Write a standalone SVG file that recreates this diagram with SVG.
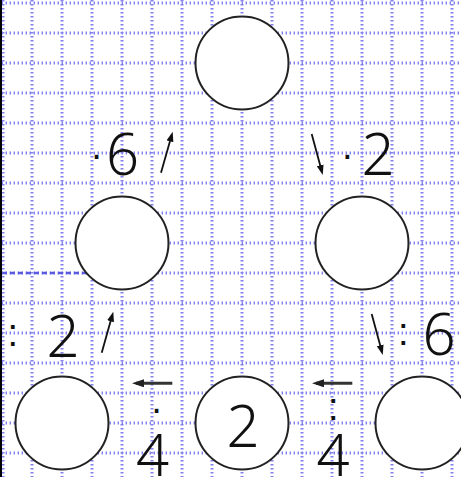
<svg xmlns="http://www.w3.org/2000/svg" width="461" height="477" viewBox="0 0 461 477">
<style>
.gh{stroke:#8080ee;stroke-width:3;stroke-dasharray:1.4 2.6;fill:none}
.gv{stroke:#8080ee;stroke-width:3;stroke-dasharray:1.4 2.6;fill:none}
.node{fill:#fff;stroke:#222;stroke-width:2}
.num{font-family:"Noto Sans","DejaVu Sans",sans-serif;font-weight:300;font-size:58px;fill:#111;text-anchor:middle}
.op{font-family:"Liberation Sans",Arial,sans-serif;font-weight:400;font-size:38px;fill:#111;text-anchor:middle}
.arr{stroke:#111;stroke-width:1.8;fill:none;marker-end:url(#ah)}
.arrh{stroke:#333;stroke-width:3;fill:none;marker-end:url(#ah2)}
</style>
<defs>
<marker id="ah" markerUnits="userSpaceOnUse" viewBox="0 0 10 7" markerWidth="10" markerHeight="7" refX="6" refY="3.5" orient="auto"><path d="M0,0 L10,3.5 L0,7 Z" fill="#111"/></marker>
<marker id="ah2" markerUnits="userSpaceOnUse" viewBox="0 0 12 8" markerWidth="12" markerHeight="8" refX="8" refY="4" orient="auto"><path d="M0,0 L12,4 L0,8 Z" fill="#222"/></marker>
</defs>
<rect x="0" y="0" width="461" height="477" fill="#fff"/>
<g id="grid">
<path class="gh" d="M1.6,3H461M1.6,33H461M1.6,63H461M1.6,93H461M1.6,123H461M1.6,153H461M1.6,183H461M1.6,213H461M1.6,243H461M1.6,273H461M1.6,303H461M1.6,333H461M1.6,363H461M1.6,393H461M1.6,423H461M1.6,453H461"/>
<path class="gv" d="M3,0V477M32,0V477M62,0V477M92,0V477M122,0V477M152,0V477M182,0V477M212,0V477M242,0V477M272,0V477M302,0V477M332,0V477M362,0V477M392,0V477M422,0V477M452,0V477"/>
<path d="M2,273H98" stroke="#5a5ae0" stroke-width="2.5" stroke-dasharray="5 3" fill="none"/>
<path d="M1,0V477" stroke="#000" stroke-width="2"/>
</g>
<g id="connectors">
<path class="arr" d="M161,172.7L171.6,135.5"/>
<path class="arr" d="M311.7,134L321.7,171.1"/>
<path class="arr" d="M101.7,352.7L112.2,315.5"/>
<path class="arr" d="M371.7,314L381.7,351.1"/>
<path class="arrh" d="M172.3,383.3H136"/>
<path class="arrh" d="M352.3,383.3H316"/>
</g>
<g id="node-top"><circle class="node" cx="242" cy="63" r="46.5"/></g>
<g id="node-mid-left"><circle class="node" cx="122" cy="243" r="46.5"/></g>
<g id="node-mid-right"><circle class="node" cx="362" cy="243" r="46.5"/></g>
<g id="node-bottom-left"><circle class="node" cx="62" cy="423" r="46.5"/></g>
<g id="node-bottom-mid"><circle class="node" cx="242" cy="423" r="46.5"/><text class="num" x="243" y="446.5">2</text></g>
<g id="node-bottom-right"><circle class="node" cx="422" cy="423" r="46.5"/></g>
<g id="labels">
<text><tspan class="op" x="96.7" y="168.3">·</tspan><tspan class="num" x="122.5" y="175">6</tspan></text>
<text><tspan class="op" x="347.3" y="168.3">·</tspan><tspan class="num" x="378" y="175">2</tspan></text>
<text><tspan class="op" x="12.7" y="346">:</tspan><tspan class="num" x="63" y="356.5">2</tspan></text>
<text><tspan class="op" x="403.3" y="345.2">:</tspan><tspan class="num" x="439" y="355">6</tspan></text>
<text><tspan class="op" x="156.7" y="422.3">·</tspan><tspan class="num" x="152.5" y="476">4</tspan></text>
<text><tspan class="op" x="333.3" y="420.3">:</tspan><tspan class="num" x="333" y="476">4</tspan></text>
</g>
</svg>
